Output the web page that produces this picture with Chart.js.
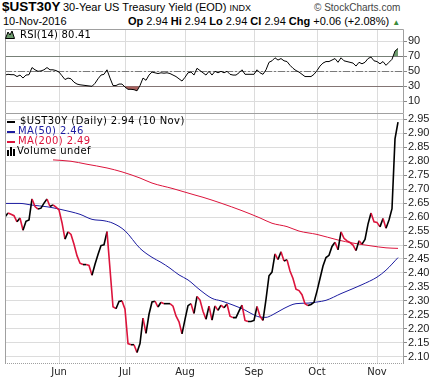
<!DOCTYPE html>
<html>
<head>
<meta charset="utf-8">
<script src="https://cdn.jsdelivr.net/npm/chart.js@4.4.1/dist/chart.umd.min.js"></script>
<style>
  body { margin:0; width:432px; height:385px; overflow:hidden; background:#fff; position:relative;
         font-family:"Liberation Sans", Arial, sans-serif; color:#000; }
  .t { position:absolute; white-space:nowrap; line-height:1; }
  .box { position:absolute; left:0; width:432px; }
  .v { font-family:"DejaVu Sans", Verdana, sans-serif; font-size:10px; letter-spacing:0.4px; }
  .dash { position:absolute; width:8px; height:2px; }
</style>
</head>
<body>
<div class="t" style="left:2px;top:0;font-weight:bold;font-size:13.5px">$UST30Y</div>
<div class="t" style="left:63px;top:2px;font-size:11px">30-Year US Treasury Yield (EOD) <span style="font-size:9px">INDX</span></div>
<div class="t" style="left:314px;top:3px;font-size:10px;color:#444">© StockCharts.com</div>
<div class="t" style="left:3px;top:16px;font-size:11px">10-Nov-2016</div>
<div class="t" style="left:128px;top:16px;font-size:11px"><b>Op</b> 2.94 <b>Hi</b> 2.94 <b>Lo</b> 2.94 <b>Cl</b> 2.94 <b>Chg</b> +0.06 (+2.08%) <span style="color:#3c8a3c;font-size:8px">&#9650;</span></div>

<div class="box" style="top:29px;height:84px"><canvas id="rsi"></canvas></div>
<div class="box" style="top:113px;height:272px"><canvas id="main"></canvas></div>

<!-- RSI label -->
<svg style="position:absolute;left:5px;top:30px" width="10" height="9">
  <polygon points="0.5,8.5 3,2 5,5 7,1 9.5,8.5" fill="#6d9a6d" stroke="#000" stroke-width="1"/>
</svg>
<div class="t v" style="left:20px;top:30px;letter-spacing:0.2px">RSI(14) 80.41</div>

<!-- price legend -->
<div class="dash" style="left:7px;top:121px;background:#000"></div>
<div class="t v" style="left:20px;top:116px">$UST30Y (Daily) 2.94 (10 Nov)</div>
<div class="dash" style="left:7px;top:131px;background:#1c1ca0"></div>
<div class="t v" style="left:18px;top:126px;color:#1c1ca0">MA(50) 2.46</div>
<div class="dash" style="left:7px;top:141px;background:#dc143c"></div>
<div class="t v" style="left:18px;top:136px;color:#dc143c">MA(200) 2.49</div>
<svg style="position:absolute;left:7px;top:147px" width="10" height="9">
  <rect x="0" y="3" width="2" height="6" fill="#000"/><rect x="3" y="0" width="2" height="9" fill="#000"/><rect x="6" y="2" width="2" height="7" fill="#000"/>
</svg>
<div class="t v" style="left:17px;top:146px">Volume undef</div>

<script>
// ---- data (trading-day index 0 = early May 2016, 131 = 10-Nov-2016) ----
const priceData = [
  2.600, 2.615, 2.610, 2.605, 2.583, 2.597, 2.553, 2.585, 2.590, 2.665,
  2.638, 2.629, 2.632, 2.650, 2.665, 2.638, 2.644, 2.636, 2.626, 2.580,
  2.521, 2.547, 2.538, 2.503, 2.462, 2.435, 2.430, 2.430, 2.427, 2.392,
  2.431, 2.466, 2.498, 2.501, 2.548, 2.414, 2.279, 2.272, 2.298, 2.300,
  2.270, 2.147, 2.143, 2.143, 2.115, 2.147, 2.238, 2.184, 2.252, 2.296,
  2.299, 2.278, 2.295, 2.290, 2.290, 2.290, 2.281, 2.246, 2.225, 2.182,
  2.234, 2.283, 2.290, 2.255, 2.316, 2.303, 2.263, 2.234, 2.281, 2.231,
  2.282, 2.266, 2.285, 2.275, 2.289, 2.245, 2.240, 2.240, 2.263, 2.285,
  2.230, 2.226, 2.226, 2.230, 2.280, 2.245, 2.230, 2.305, 2.390, 2.403,
  2.468, 2.448, 2.476, 2.443, 2.447, 2.407, 2.380, 2.342, 2.337, 2.322,
  2.290, 2.283, 2.287, 2.295, 2.335, 2.380, 2.425, 2.455, 2.463, 2.495,
  2.510, 2.483, 2.547, 2.524, 2.515, 2.509, 2.500, 2.480, 2.515, 2.503,
  2.520, 2.575, 2.615, 2.583, 2.581, 2.565, 2.595, 2.560, 2.590, 2.630,
  2.880, 2.940
];
const rsiData = [
  45, 46, 45.5, 45.5, 43, 45, 41, 45, 45.5, 55,
  52, 50, 50.5, 52, 55, 52, 52, 51, 49, 44,
  39, 41, 40, 35.5, 33, 32, 31.5, 31, 30.5, 30,
  34, 40, 45, 46, 52, 41, 31, 31, 33, 33,
  29, 26, 26, 25.5, 24, 31, 41, 38, 45, 49,
  48, 47, 48, 47.5, 48, 47, 45, 43, 40, 37,
  42, 48, 49, 45, 54, 51, 48, 45, 50, 45,
  50, 48, 50, 48, 50, 46, 45, 45, 48, 52,
  46, 46, 46, 46, 52, 48, 46, 52, 62, 64,
  68, 65, 67, 64, 63, 58, 54, 51, 49, 46,
  43, 43, 43, 46, 51, 57, 61, 63, 63, 65,
  67, 62, 68, 64, 63, 62, 61, 57, 62, 60,
  62, 67, 69, 64, 63, 60, 63, 58, 62, 66,
  77, 80.41
];
const ma50Idx  = [0, 5, 9, 14, 18, 22, 25, 29, 33, 36, 40, 45, 49, 52, 55, 58, 61, 65, 69, 72, 76, 80, 82, 85, 87, 89, 93, 97, 101, 104, 107, 112, 116, 119, 124, 127, 131];
const ma50Vals = [2.649, 2.649, 2.643, 2.637, 2.629, 2.619, 2.610, 2.592, 2.587, 2.578, 2.551, 2.488, 2.456, 2.438, 2.417, 2.393, 2.375, 2.339, 2.309, 2.300, 2.285, 2.267, 2.255, 2.242, 2.241, 2.249, 2.273, 2.290, 2.292, 2.296, 2.302, 2.326, 2.344, 2.358, 2.385, 2.410, 2.455];
const ma200Idx  = [16, 22, 27, 34, 39, 45, 49, 56, 63, 66, 72, 79, 85, 89, 94, 98, 104, 111, 116, 122, 127, 131];
const ma200Vals = [2.805, 2.800, 2.790, 2.776, 2.762, 2.740, 2.722, 2.702, 2.680, 2.671, 2.650, 2.623, 2.597, 2.578, 2.566, 2.550, 2.538, 2.518, 2.507, 2.497, 2.490, 2.488];

const monthIdx    = [18, 40, 60, 83, 104, 124];
const monthLabels = ['Jun', 'Jul', 'Aug', 'Sep', 'Oct', 'Nov'];
const priceTicks  = [2.10, 2.15, 2.20, 2.25, 2.30, 2.35, 2.40, 2.45, 2.50, 2.55, 2.60, 2.65, 2.70, 2.75, 2.80, 2.85, 2.90, 2.95];
const rsiTicks    = [10, 30, 50, 70, 90];
const rsiLevels   = [30, 50, 70];

const UP_CLR = '#000000', DN_CLR = '#dc143c', MA50_CLR = '#1c1ca0', MA200_CLR = '#dc143c';
const GRID = '#dcdcdc', FRAME = '#a0a0a0';
const AXIS_FONT = { family: '"Liberation Sans", Arial, sans-serif', size: 11 };

Chart.defaults.animation = false;

const toPts = (idx, vals) => idx.map((x, k) => ({ x, y: vals[k] }));
const seqPts = vals => vals.map((y, i) => ({ x: i, y }));

// plot frame (left/top/right solid, optional dotted bottom)
const frame = {
  id: 'frame',
  afterDraw(chart, args, opts) {
    const { ctx, chartArea: a } = chart;
    ctx.save();
    ctx.strokeStyle = FRAME;
    ctx.lineWidth = 1;
    ctx.beginPath();
    ctx.moveTo(a.left + 0.5, a.bottom); ctx.lineTo(a.left + 0.5, a.top + 0.5);
    ctx.lineTo(a.right - 0.5, a.top + 0.5); ctx.lineTo(a.right - 0.5, a.bottom);
    ctx.stroke();
    if (opts.dottedBottom) {
      ctx.setLineDash([1, 1]);
      ctx.beginPath();
      ctx.moveTo(a.left, a.bottom - 0.5); ctx.lineTo(a.right, a.bottom - 0.5);
      ctx.stroke();
    }
    ctx.restore();
  }
};

// RSI 30 / 50 / 70 reference lines
const levelLines = {
  id: 'levelLines',
  beforeDatasetsDraw(chart) {
    const { ctx, chartArea: a, scales: { y } } = chart;
    ctx.save();
    ctx.strokeStyle = '#7a7a7a';
    ctx.lineWidth = 1;
    rsiLevels.forEach(v => {
      const py = Math.round(y.getPixelForValue(v)) + 0.5;
      ctx.setLineDash(v === 50 ? [7, 2, 2, 2] : []);
      ctx.beginPath(); ctx.moveTo(a.left, py); ctx.lineTo(a.right, py); ctx.stroke();
    });
    ctx.restore();
  }
};

function xScale(showLabels) {
  return {
    type: 'linear', min: 0, max: 133,
    afterBuildTicks: s => { s.ticks = monthIdx.map(v => ({ value: v })); },
    afterFit: s => { s.height = showLabels ? 21 : 0; s.paddingLeft = 0; s.paddingRight = 0; },
    grid: { color: GRID, drawTicks: false },
    border: { display: false },
    ticks: {
      display: showLabels, padding: 2, color: '#222',
      font: { family: '"DejaVu Sans", Verdana, sans-serif', size: 10 },
      maxRotation: 0, autoSkip: false,
      callback: v => monthLabels[monthIdx.indexOf(v)]
    }
  };
}

function yScale(min, max, ticks, fmt) {
  return {
    position: 'right', min, max,
    afterBuildTicks: s => { s.ticks = ticks.map(v => ({ value: v })); },
    afterFit: s => { s.width = 28; s.paddingTop = 0; s.paddingBottom = 0; },
    grid: { color: GRID, tickColor: '#888', tickLength: 3 },
    border: { display: false },
    ticks: { padding: 1, color: '#222', font: AXIS_FONT, autoSkip: false, callback: fmt }
  };
}

const baseOpts = {
  responsive: true, maintainAspectRatio: false,
  layout: { autoPadding: false, padding: { left: 5, right: 0, top: 0, bottom: 0 } },
  elements: { point: { radius: 0 }, line: { tension: 0 } },
  plugins: { legend: { display: false }, tooltip: { enabled: false } }
};

// ---- RSI panel ----
const rsiPts = seqPts(rsiData);
new Chart(document.getElementById('rsi'), {
  type: 'line',
  data: {
    datasets: [
      { data: rsiPts, borderColor: '#000', borderWidth: 1, fill: false },
      { data: rsiPts, borderWidth: 0, fill: { target: { value: 30 }, above: 'rgba(0,0,0,0)', below: '#a8615e' } },
      { data: rsiPts, borderWidth: 0, fill: { target: { value: 70 }, above: '#6d9a6d', below: 'rgba(0,0,0,0)' } }
    ]
  },
  options: {
    ...baseOpts,
    scales: {
      x: xScale(false),
      y: yScale(-5.6, 106.4, rsiTicks, v => String(v))
    },
    plugins: { ...baseOpts.plugins, frame: {} }
  },
  plugins: [levelLines, frame]
});

// ---- price panel ----
new Chart(document.getElementById('main'), {
  type: 'line',
  data: {
    datasets: [
      {
        data: seqPts(priceData), borderWidth: 1.6, borderColor: UP_CLR, fill: false,
        segment: { borderColor: c => (c.p1.parsed.y < c.p0.parsed.y ? DN_CLR : UP_CLR) }
      },
      { data: toPts(ma50Idx, ma50Vals), borderColor: MA50_CLR, borderWidth: 1, fill: false, cubicInterpolationMode: 'monotone' },
      { data: toPts(ma200Idx, ma200Vals), borderColor: MA200_CLR, borderWidth: 1, fill: false, cubicInterpolationMode: 'monotone' }
    ]
  },
  options: {
    ...baseOpts,
    scales: {
      x: xScale(true),
      y: yScale(2.0739, 2.9729, priceTicks, v => v.toFixed(2))
    },
    plugins: { ...baseOpts.plugins, frame: { dottedBottom: true } }
  },
  plugins: [frame]
});
</script>
</body>
</html>
